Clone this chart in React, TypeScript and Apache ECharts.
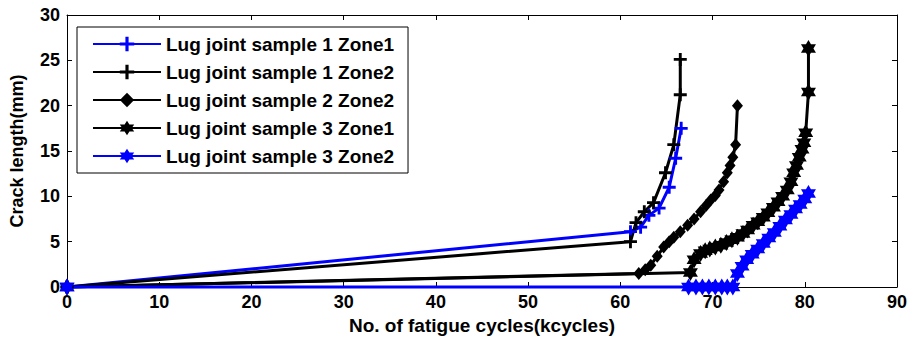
import React, { useEffect, useRef } from "react";
import * as echarts from "echarts";

const seriesNames = [
  "Lug joint sample 1 Zone1",
  "Lug joint sample 1 Zone2",
  "Lug joint sample 2 Zone2",
  "Lug joint sample 3 Zone1",
  "Lug joint sample 3 Zone2",
];

const s1z1X = [0, 61.1, 62.2, 63.1, 64.2, 65.3, 66.0, 66.6];
const s1z1Y = [0, 6.1, 6.6, 7.9, 8.7, 11.0, 14.2, 17.5];

const s1z2X = [0, 61.1, 61.7, 62.6, 63.6, 64.9, 65.8, 66.5, 66.5];
const s1z2Y = [0, 5.0, 7.1, 8.3, 9.3, 12.6, 15.7, 21.2, 25.1];

const s2z2X = [0, 62.0, 62.7, 63.3, 64.0, 64.7, 65.3, 65.8, 66.5, 67.3, 68.0, 68.7, 69.3, 69.8, 70.3, 70.7, 71.2, 71.6, 71.9, 72.2, 72.5, 72.7];
const s2z2Y = [0, 1.5, 1.9, 2.4, 3.4, 4.4, 5.0, 5.5, 6.1, 6.8, 7.5, 8.3, 9.0, 9.6, 10.1, 10.7, 11.6, 12.6, 13.4, 14.3, 15.7, 20.0];

const s3z1X = [0, 67.6, 68.0, 68.7, 69.2, 69.7, 70.3, 70.9, 71.5, 72.1, 72.7, 73.3, 73.8, 74.4, 74.9, 75.5, 76.0, 76.6, 77.1, 77.6, 78.1, 78.5, 78.8, 79.1, 79.4, 79.7, 79.9, 80.1, 80.4, 80.4];
const s3z1Y = [0, 1.6, 3.0, 3.7, 4.0, 4.2, 4.4, 4.6, 4.9, 5.2, 5.5, 5.9, 6.3, 6.8, 7.2, 7.7, 8.2, 8.8, 9.4, 10.0, 10.7, 11.6, 12.6, 13.4, 14.3, 15.2, 15.9, 17.0, 21.5, 26.3];

const s3z2X = [0, 67.4, 68.2, 68.9, 69.6, 70.3, 71.0, 71.6, 72.2, 72.7, 73.2, 73.7, 74.3, 74.9, 75.5, 76.1, 76.7, 77.3, 77.9, 78.5, 79.0, 79.5, 80.0, 80.4];
const s3z2Y = [0, 0, 0, 0, 0, 0, 0, 0, 0, 1.5, 2.3, 3.0, 3.6, 4.2, 4.8, 5.4, 6.0, 6.7, 7.4, 8.0, 8.6, 9.1, 9.7, 10.3];

const xTicks = { min: 0, max: 90, interval: 10 };
const yTicks = { min: 0, max: 30, interval: 5 };

const xTitle = "No. of fatigue cycles(kcycles)";
const yTitle = "Crack length(mm)";

const FONT = "'Liberation Sans', Arial, sans-serif";
const BLUE = "#0000ff";
const BLACK = "#000000";

const plusPath =
  "path://M-0.22,-1L0.22,-1L0.22,-0.22L1,-0.22L1,0.22L0.22,0.22L0.22,1L-0.22,1L-0.22,0.22L-1,0.22L-1,-0.22L-0.22,-0.22Z";
const hexPath =
  "path://M0,-1L0.289,-0.5L0.866,-0.5L0.577,0L0.866,0.5L0.289,0.5L0,1L-0.289,0.5L-0.866,0.5L-0.577,0L-0.866,-0.5L-0.289,-0.5Z";

function zip(xs: number[], ys: number[]) {
  return xs.map((x, i) => [x, ys[i]]);
}

export default function App() {
  const ref = useRef<HTMLDivElement>(null);
  useEffect(() => {
    if (!ref.current) return;
    const chart = echarts.init(ref.current, undefined, { renderer: "svg" });
    const labelStyle = { color: BLACK, fontSize: 18, fontWeight: "bold" as const, fontFamily: FONT };
    const mkSeries = (
      name: string,
      xs: number[],
      ys: number[],
      color: string,
      symbol: string,
      size: number | number[]
    ) => ({
      type: "line",
      name,
      data: zip(xs, ys),
      symbol,
      symbolSize: size,
      showAllSymbol: true,
      clip: false,
      lineStyle: { color, width: 3 },
      itemStyle: { color, borderWidth: 0 },
      emphasis: { disabled: true },
    });
    const option: any = {
      animation: false,
      backgroundColor: "#fff",
      grid: { left: 65, right: 13, top: 15, bottom: 53, containLabel: false },
      legend: {
        orient: "vertical",
        left: 77,
        top: 27,
        padding: [7, 14, 7, 15],
        itemGap: 8,
        itemWidth: 68,
        itemHeight: 18,
        backgroundColor: "#fff",
        borderColor: BLACK,
        borderWidth: 1,
        borderRadius: 0,
        textStyle: { ...labelStyle, fontSize: 19, lineHeight: 20 },
        data: seriesNames,
      },
      xAxis: [
        {
          type: "value",
          ...xTicks,
          position: "bottom",
          axisLine: { show: true, onZero: false, lineStyle: { color: BLACK, width: 1 } },
          axisTick: { show: true, inside: true, length: 5, lineStyle: { color: BLACK } },
          axisLabel: { ...labelStyle, margin: 6 },
          splitLine: { show: false },
          name: xTitle,
          nameLocation: "middle",
          nameGap: 24,
          nameTextStyle: { ...labelStyle, fontSize: 19 },
        },
        {
          type: "value",
          ...xTicks,
          position: "top",
          axisLine: { show: true, onZero: false, lineStyle: { color: BLACK, width: 1 } },
          axisTick: { show: true, inside: true, length: 5, lineStyle: { color: BLACK } },
          axisLabel: { show: false },
          splitLine: { show: false },
        },
      ],
      yAxis: [
        {
          type: "value",
          ...yTicks,
          position: "left",
          axisLine: { show: true, onZero: false, lineStyle: { color: BLACK, width: 1 } },
          axisTick: { show: true, inside: true, length: 5, lineStyle: { color: BLACK } },
          axisLabel: { ...labelStyle, margin: 7 },
          splitLine: { show: false },
          name: yTitle,
          nameLocation: "middle",
          nameGap: 41,
          nameTextStyle: labelStyle,
        },
        {
          type: "value",
          ...yTicks,
          position: "right",
          axisLine: { show: true, onZero: false, lineStyle: { color: BLACK, width: 1 } },
          axisTick: { show: true, inside: true, length: 5, lineStyle: { color: BLACK } },
          axisLabel: { show: false },
          splitLine: { show: false },
        },
      ],
      series: [
        mkSeries(seriesNames[0], s1z1X, s1z1Y, BLUE, plusPath, 13),
        mkSeries(seriesNames[1], s1z2X, s1z2Y, BLACK, plusPath, 13),
        mkSeries(seriesNames[2], s2z2X, s2z2Y, BLACK, "diamond", [11, 13]),
        mkSeries(seriesNames[3], s3z1X, s3z1Y, BLACK, hexPath, [15, 17]),
        mkSeries(seriesNames[4], s3z2X, s3z2Y, BLUE, hexPath, [15, 17]),
      ],
    };
    chart.setOption(option);
    return () => chart.dispose();
  }, []);
  return (
    <div
      ref={ref}
      style={{ position: "absolute", left: 0, top: 0, width: 910, height: 340, background: "#fff" }}
    />
  );
}
